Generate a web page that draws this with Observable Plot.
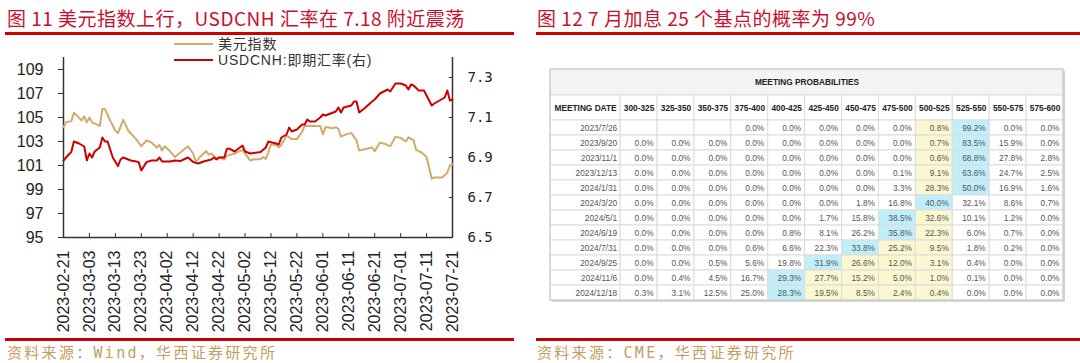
<!DOCTYPE html>
<html><head><meta charset="utf-8">
<script src="https://cdn.jsdelivr.net/npm/d3@7"></script>
<script src="https://cdn.jsdelivr.net/npm/@observablehq/plot@0.6"></script>
<style>
html,body{margin:0;padding:0;background:#fff}
body{width:1080px;height:363px;position:relative;overflow:hidden;font-family:"Noto Sans CJK SC",sans-serif}
.abs{position:absolute;white-space:nowrap}
.title{color:#c8102e;font-size:19px;line-height:22px;letter-spacing:0.5px;font-family:"Liberation Sans Narrow","Noto Sans CJK SC",sans-serif}
.bar{position:absolute;height:3px;background:#cc0000}
.src{color:#c39d62;font-size:15px;line-height:18px;letter-spacing:2.3px;font-family:"DejaVu Sans Mono","Noto Sans CJK SC",monospace}
.leg{font-size:14px;line-height:16px;height:16px;color:#333;letter-spacing:0.8px;font-family:"Liberation Sans","Noto Sans CJK SC",sans-serif}
.legline{position:absolute;height:2px;width:39px}
</style>
</head><body>
<script>
// ---------- Left chart data ----------
const dxyDates = ["2023-02-21","2023-02-22","2023-02-24","2023-02-25","2023-02-26","2023-02-28","2023-03-01","2023-03-02","2023-03-03","2023-03-04","2023-03-07","2023-03-08","2023-03-09","2023-03-11","2023-03-13","2023-03-14","2023-03-16","2023-03-18","2023-03-21","2023-03-23","2023-03-25","2023-03-27","2023-03-29","2023-03-30","2023-03-31","2023-04-01","2023-04-03","2023-04-05","2023-04-06","2023-04-10","2023-04-12","2023-04-13","2023-04-15","2023-04-17","2023-04-18","2023-04-19","2023-04-21","2023-04-22","2023-04-24","2023-04-25","2023-04-28","2023-05-01","2023-05-04","2023-05-05","2023-05-08","2023-05-09","2023-05-10","2023-05-11","2023-05-12","2023-05-14","2023-05-15","2023-05-16","2023-05-18","2023-05-20","2023-05-22","2023-05-24","2023-05-25","2023-05-27","2023-05-29","2023-05-31","2023-06-01","2023-06-02","2023-06-05","2023-06-06","2023-06-07","2023-06-08","2023-06-10","2023-06-12","2023-06-14","2023-06-15","2023-06-18","2023-06-20","2023-06-21","2023-06-23","2023-06-25","2023-06-27","2023-06-29","2023-07-01","2023-07-03","2023-07-04","2023-07-06","2023-07-07","2023-07-09","2023-07-11","2023-07-13","2023-07-14","2023-07-17","2023-07-19","2023-07-20","2023-07-21"];
const dxyValues = [104.2,104.6,104.7,105.4,105.2,104.75,105.1,104.6,105.0,104.6,104.3,105.7,105.7,104.75,103.9,103.7,104.8,103.9,103.2,102.6,103.1,102.9,102.5,102.7,102.25,102.6,102.2,101.7,101.9,102.6,102.0,101.3,101.8,102.2,101.9,102.0,101.6,101.7,101.5,101.8,102.0,102.3,101.4,101.5,101.55,101.7,101.55,102.1,102.75,102.7,102.5,102.7,103.5,103.2,103.2,103.8,104.3,104.3,104.3,104.3,103.6,104.2,104.1,104.2,104.05,103.4,103.6,103.7,103.1,102.25,102.4,102.5,102.2,102.9,102.8,102.6,103.4,103.3,103.0,103.35,103.1,102.3,102.1,101.7,99.9,100.0,100.0,100.4,101.0,101.1];

const cnhDates = ["2023-02-21","2023-02-23","2023-02-24","2023-02-25","2023-02-27","2023-03-01","2023-03-02","2023-03-03","2023-03-04","2023-03-05","2023-03-07","2023-03-08","2023-03-09","2023-03-10","2023-03-12","2023-03-14","2023-03-15","2023-03-16","2023-03-19","2023-03-21","2023-03-22","2023-03-23","2023-03-25","2023-03-27","2023-03-29","2023-03-30","2023-03-31","2023-04-03","2023-04-05","2023-04-07","2023-04-10","2023-04-12","2023-04-14","2023-04-16","2023-04-19","2023-04-20","2023-04-21","2023-04-22","2023-04-24","2023-04-25","2023-04-26","2023-04-28","2023-04-30","2023-05-01","2023-05-02","2023-05-04","2023-05-08","2023-05-10","2023-05-11","2023-05-14","2023-05-15","2023-05-16","2023-05-18","2023-05-19","2023-05-20","2023-05-22","2023-05-24","2023-05-25","2023-05-26","2023-05-27","2023-05-29","2023-05-31","2023-06-01","2023-06-02","2023-06-04","2023-06-06","2023-06-07","2023-06-08","2023-06-09","2023-06-12","2023-06-13","2023-06-14","2023-06-15","2023-06-17","2023-06-20","2023-06-21","2023-06-23","2023-06-26","2023-06-27","2023-06-29","2023-07-01","2023-07-03","2023-07-04","2023-07-05","2023-07-06","2023-07-08","2023-07-10","2023-07-11","2023-07-13","2023-07-14","2023-07-16","2023-07-18","2023-07-19","2023-07-20","2023-07-21"];
const cnhValues = [6.885,6.915,6.927,6.98,6.97,6.955,6.885,6.92,6.90,6.93,6.95,7.00,6.98,6.98,6.90,6.857,6.89,6.90,6.885,6.88,6.877,6.835,6.877,6.885,6.885,6.90,6.88,6.88,6.885,6.882,6.90,6.877,6.87,6.88,6.89,6.90,6.89,6.90,6.90,6.944,6.944,6.93,6.95,6.96,6.93,6.92,6.927,6.95,6.98,6.97,6.965,7.00,7.015,7.05,7.03,7.04,7.065,7.065,7.09,7.08,7.08,7.10,7.115,7.11,7.12,7.13,7.15,7.125,7.15,7.16,7.18,7.18,7.125,7.145,7.18,7.19,7.22,7.24,7.23,7.27,7.27,7.26,7.24,7.265,7.26,7.235,7.235,7.21,7.16,7.17,7.185,7.20,7.235,7.185,7.19];

const xTickDates = ["2023-02-21","2023-03-03","2023-03-13","2023-03-23","2023-04-02","2023-04-12","2023-04-22","2023-05-02","2023-05-12","2023-05-22","2023-06-01","2023-06-11","2023-06-21","2023-07-01","2023-07-11","2023-07-21"];
const leftTicks = [95,97,99,101,103,105,107,109];
const leftDomain = [95,110];
const rightTicks = [6.5,6.7,6.9,7.1,7.3];
const rightDomain = [6.5,7.4];
const seriesNames = ["美元指数","USDCNH:即期汇率(右)"];
const seriesColors = ["#d4a96c","#cc0000"];

// ---------- Right table data ----------
const tableTitle = "MEETING PROBABILITIES";
const dateHeader = "MEETING DATE";
const rateRanges = ["300-325","325-350","350-375","375-400","400-425","425-450","450-475","475-500","500-525","525-550","550-575","575-600"];
const currentRange = "500-525";
const meetingDates = ["2023/7/26","2023/9/20","2023/11/1","2023/12/13","2024/1/31","2024/3/20","2024/5/1","2024/6/19","2024/7/31","2024/9/25","2024/11/6","2024/12/18"];
const probabilities = [
  [null,null,null,0.0,0.0,0.0,0.0,0.0,0.8,99.2,0.0,0.0],
  [0.0,0.0,0.0,0.0,0.0,0.0,0.0,0.0,0.7,83.5,15.9,0.0],
  [0.0,0.0,0.0,0.0,0.0,0.0,0.0,0.0,0.6,68.8,27.8,2.8],
  [0.0,0.0,0.0,0.0,0.0,0.0,0.0,0.1,9.1,63.6,24.7,2.5],
  [0.0,0.0,0.0,0.0,0.0,0.0,0.0,3.3,28.3,50.0,16.9,1.6],
  [0.0,0.0,0.0,0.0,0.0,0.0,1.8,16.8,40.0,32.1,8.6,0.7],
  [0.0,0.0,0.0,0.0,0.0,1.7,15.8,38.5,32.6,10.1,1.2,0.0],
  [0.0,0.0,0.0,0.0,0.8,8.1,26.2,35.8,22.3,6.0,0.7,0.0],
  [0.0,0.0,0.0,0.6,6.6,22.3,33.8,25.2,9.5,1.8,0.2,0.0],
  [0.0,0.0,0.5,5.6,19.8,31.9,26.6,12.0,3.1,0.4,0.0,0.0],
  [0.0,0.4,4.5,16.7,29.3,27.7,15.2,5.0,1.0,0.1,0.0,0.0],
  [0.3,3.1,12.5,25.0,28.3,19.5,8.5,2.4,0.4,0.0,0.0,0.0]
];
</script>

<div class="abs title" style="left:7px;top:7px">图 11 美元指数上行，USDCNH 汇率在 7.18 附近震荡</div>
<div class="abs title" style="left:537px;top:7px">图 12 7 月加息 25 个基点的概率为 99%</div>
<div class="bar" style="left:5px;top:32px;width:509px"></div>
<div class="bar" style="left:536px;top:32px;width:544px"></div>

<div id="left" class="abs" style="left:0;top:40px"></div>
<div id="legend"></div>
<div id="right" class="abs" style="left:540px;top:60px"></div>

<div class="bar" style="left:5px;top:338px;width:509px"></div>
<div class="bar" style="left:536px;top:338px;width:544px"></div>
<div class="abs src" style="left:7px;top:344px">资料来源：Wind，华西证券研究所</div>
<div class="abs src" style="left:537px;top:344px">资料来源：CME，华西证券研究所</div>

<script>
// ---------- Left chart ----------
const toLeft = v => leftDomain[0] + (v - rightDomain[0]) * (leftDomain[1] - leftDomain[0]) / (rightDomain[1] - rightDomain[0]);
const fromLeft = y => rightDomain[0] + (y - leftDomain[0]) * (rightDomain[1] - rightDomain[0]) / (leftDomain[1] - leftDomain[0]);
const dxy = dxyDates.map((d, i) => ({date: new Date(d), v: dxyValues[i]}));
const cnh = cnhDates.map((d, i) => ({date: new Date(d), v: toLeft(cnhValues[i])}));
const xDomain = [new Date(xTickDates[0]), new Date(xTickDates[xTickDates.length - 1])];
const tickFont = "Liberation Sans Narrow, Liberation Sans, Arial, sans-serif";

const leftChart = Plot.plot({
  width: 540, height: 295,
  marginLeft: 63, marginRight: 88, marginTop: 17, marginBottom: 98,
  x: {type: "utc", domain: xDomain},
  y: {domain: leftDomain},
  style: {fontFamily: tickFont, fontSize: "16px", color: "#222", background: "transparent", overflow: "visible"},
  marks: [
    Plot.axisY(leftTicks, {anchor: "left", tickSize: 5, tickPadding: 15, fontSize: 16, fontFamily: tickFont, label: null, stroke: "#333"}),
    Plot.axisY(rightTicks.map(toLeft), {anchor: "right", tickSize: 4, dx: -4, tickPadding: 15, fontSize: 14, fontFamily: "DejaVu Sans Mono, monospace", tickFormat: y => fromLeft(y).toFixed(1), label: null, stroke: "#333"}),
    Plot.axisX(xTickDates.map(d => new Date(d)), {anchor: "bottom", tickSize: 4, dy: -4, tickPadding: 13, tickRotate: -90, fontSize: 16, fontFamily: tickFont, tickFormat: d3.utcFormat("%Y-%m-%d"), label: null, stroke: "#333"}),
    Plot.ruleX([xDomain[0]], {stroke: "#333", strokeWidth: 1.5}),
    Plot.ruleX([xDomain[1]], {stroke: "#333", strokeWidth: 1.5}),
    Plot.ruleY([leftDomain[0]], {stroke: "#333", strokeWidth: 1.5}),
    Plot.line(dxy, {x: "date", y: "v", stroke: seriesColors[0], strokeWidth: 2}),
    Plot.line(cnh, {x: "date", y: "v", stroke: seriesColors[1], strokeWidth: 2})
  ]
});
document.getElementById("left").appendChild(leftChart);

// legend
const legend = document.getElementById("legend");
seriesNames.forEach((name, i) => {
  const ln = document.createElement("div");
  ln.className = "legline";
  ln.style.left = "174px";
  ln.style.top = (43 + i * 16) + "px";
  ln.style.background = seriesColors[i];
  legend.appendChild(ln);
  const tx = document.createElement("div");
  tx.className = "abs leg";
  tx.style.left = "218px";
  tx.style.top = (36 + i * 16) + "px";
  tx.textContent = name;
  legend.appendChild(tx);
});

// ---------- Right table ----------
const dateColW = 1.9;           // width of date column in cell units
const titleRowH = 26 / 15;      // header row heights in data-row units
const headerRowH = 25 / 15;
const nCols = rateRanges.length;
const totalW = dateColW + nCols;
const dataTop = titleRowH + headerRowH;
const totalH = dataTop + meetingDates.length;
const currentIdx = rateRanges.indexOf(currentRange);
const fills = {max: "#c0eefa", cur: "#fbf7d0", plain: "#ffffff"};

const headerCells = [{x1: 0, x2: dateColW, label: dateHeader}].concat(
  rateRanges.map((r, c) => ({x1: dateColW + c, x2: dateColW + c + 1, label: r})));
headerCells.forEach(d => { d.y1 = titleRowH; d.y2 = dataTop; d.xc = (d.x1 + d.x2) / 2; d.yc = (d.y1 + d.y2) / 2; });

const dateCells = meetingDates.map((date, r) => ({x1: 0, x2: dateColW, y1: dataTop + r, y2: dataTop + r + 1, yc: dataTop + r + 0.5, date}));

const cells = [];
meetingDates.forEach((date, r) => {
  const row = probabilities[r];
  const maxI = d3.maxIndex(row);
  const lo = Math.min(maxI, currentIdx), hi = Math.max(maxI, currentIdx);
  row.forEach((p, c) => {
    const kind = c === maxI ? "max" : (c >= lo && c <= hi ? "cur" : "plain");
    cells.push({x1: dateColW + c, x2: dateColW + c + 1, y1: dataTop + r, y2: dataTop + r + 1, yc: dataTop + r + 0.5, p, kind});
  });
});

const tf = "Liberation Sans, Arial, sans-serif";
const table = Plot.plot({
  width: 540, height: 250,
  marginLeft: 10, marginRight: 17, marginTop: 9, marginBottom: 10,
  x: {domain: [0, totalW], axis: null},
  y: {domain: [0, totalH], reverse: true, axis: null},
  style: {fontFamily: tf, background: "transparent", overflow: "visible"},
  marks: [
    Plot.rect([0], {x1: 0, x2: totalW, y1: 0, y2: totalH, fill: "#d4d4d4", dx: 2, dy: 2}),
    Plot.rect([0], {x1: 0, x2: totalW, y1: 0, y2: totalH, fill: "#ffffff"}),
    Plot.rect([0], {x1: 0, x2: totalW, y1: 0, y2: titleRowH, fill: "#f4f4f4", stroke: "#dcdcdc"}),
    Plot.rect(headerCells, {x1: "x1", x2: "x2", y1: "y1", y2: "y2", fill: "#ffffff", stroke: "#dcdcdc"}),
    Plot.rect(dateCells, {x1: "x1", x2: "x2", y1: "y1", y2: "y2", fill: "#ffffff", stroke: "#dcdcdc"}),
    Plot.rect(cells, {x1: "x1", x2: "x2", y1: "y1", y2: "y2", fill: d => fills[d.kind], stroke: "#dcdcdc"}),
    Plot.rect([0], {x1: 0, x2: totalW, y1: 0, y2: totalH, fill: "none", stroke: "#c6c6c6"}),
    Plot.text([tableTitle], {x: totalW / 2, y: titleRowH / 2, text: d => d, fontWeight: "bold", fontSize: 8.3, fill: "#222"}),
    Plot.text(headerCells, {x: "xc", y: "yc", text: "label", fontWeight: "bold", fontSize: 8.3, fill: "#222"}),
    Plot.text(dateCells, {x: "x2", y: "yc", text: "date", textAnchor: "end", dx: -3.5, fontSize: 8.3, fill: "#555"}),
    Plot.text(cells.filter(d => d.p != null), {x: "x2", y: "yc", text: d => d.p.toFixed(1) + "%", textAnchor: "end", dx: -4, fontSize: 8.3, fill: "#555"})
  ]
});
document.getElementById("right").appendChild(table);
</script>
</body></html>
